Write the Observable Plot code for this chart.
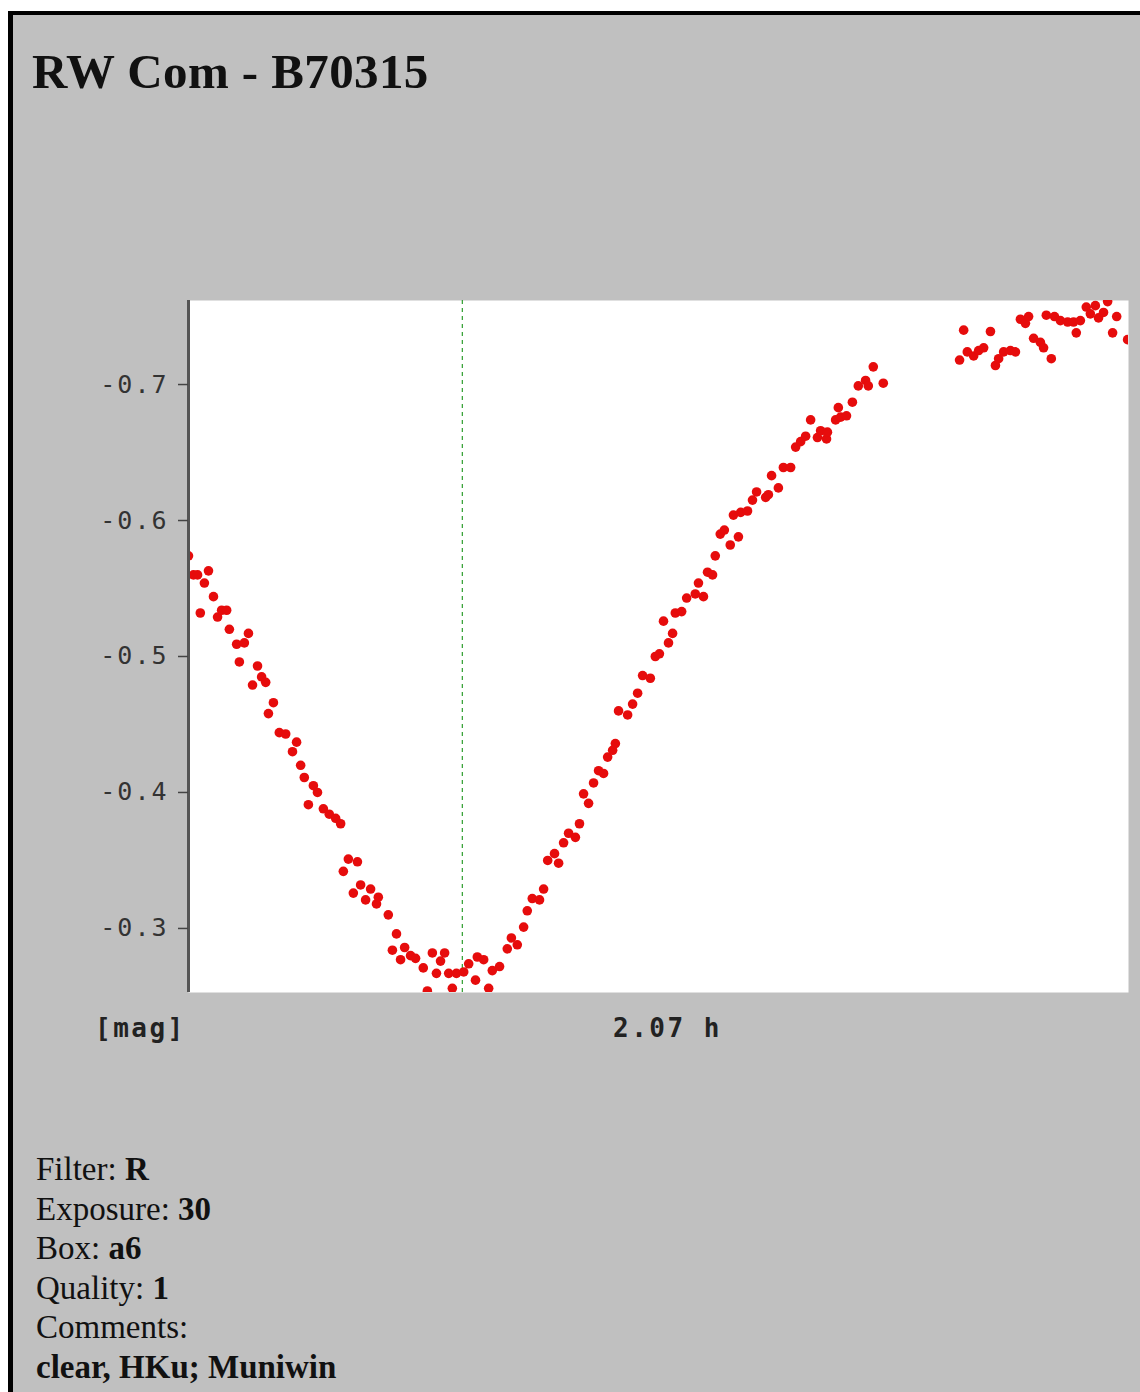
<!DOCTYPE html>
<html>
<head>
<meta charset="utf-8">
<script src="https://cdn.jsdelivr.net/npm/d3@7"></script>
<script src="https://cdn.jsdelivr.net/npm/@observablehq/plot@0.6"></script>
<style>
  html, body { margin: 0; padding: 0; background: #fff; overflow: hidden; width: 1140px; height: 1392px; }
  #frame { position: absolute; left: 8px; top: 11px; width: 1300px; height: 1500px; background: #c0c0c0;
           border-left: 5px solid #000; border-top: 4px solid #000; }
  #title { position: absolute; left: 32px; top: 47px; font-family: "Liberation Serif", "Times New Roman", serif;
           font-weight: bold; font-size: 49px; line-height: 49px; color: #111; white-space: nowrap; letter-spacing: 0.4px; }
  #chart { position: absolute; left: 0; top: 280px; }
  .axlab { position: absolute; top: 1015px; font-family: "DejaVu Sans Mono", monospace; font-size: 26px;
           line-height: 26px; letter-spacing: 2.5px; color: #222; font-weight: bold; white-space: nowrap; }
  #info { position: absolute; left: 36px; top: 1150px; font-family: "Liberation Serif", "Times New Roman", serif;
          font-size: 33px; line-height: 39.5px; color: #111; white-space: nowrap; }
</style>
</head>
<body>
<div id="frame"></div>
<div id="title">RW Com - B70315</div>
<div id="chart"></div>
<div class="axlab" id="ylab" style="left:95px">[mag]</div>
<div class="axlab" id="xlab" style="left:613px">2.07 h</div>
<div id="info">
  Filter: <b>R</b><br>
  Exposure: <b>30</b><br>
  Box: <b>a6</b><br>
  Quality: <b>1</b><br>
  Comments:<br>
  <b>clear, HKu; Muniwin</b>
</div>
<script>
// Time since start of run (hours)
const times = [
  0.000,0.011,0.020,0.035,0.044,0.055,0.026,0.064,0.073,0.084,
  0.090,0.106,0.112,0.123,0.132,0.141,0.152,0.161,0.170,0.176,
  0.187,0.200,0.214,0.229,0.238,0.247,0.255,0.264,0.275,0.284,
  0.297,0.310,0.324,0.335,
  0.341,0.352,0.372,0.363,0.379,0.390,0.401,0.414,0.418,0.440,
  0.458,0.449,0.467,0.476,0.489,0.500,0.517,0.526,0.537,0.546,
  0.555,0.564,0.573,0.581,0.590,0.606,0.617,0.632,0.636,0.650,
  0.661,0.669,0.685,0.702,0.711,0.724,0.738,0.746,0.757,0.773,
  0.782,0.791,
  0.806,0.815,0.826,0.837,0.852,0.861,0.870,0.881,0.892,0.903,0.914,0.923,0.934,0.940,
  0.947,0.967,0.978,0.989,1.000,1.017,1.028,1.037,1.046,1.057,
  1.066,1.072,1.086,1.097,1.116,1.123,1.134,1.143,1.154,1.160,
  1.171,1.180,1.193,1.200,1.211,1.216,1.231,1.242,1.251,1.271,
  1.277,1.284,1.299,1.310,1.326,1.337,1.348,1.359,
  1.370,1.385,1.392,1.405,1.407,1.425,1.431,1.436,1.449,1.462,
  1.475,1.491,1.497,1.508,1.530,
  1.698,1.707,1.715,1.729,1.740,1.751,1.766,1.777,1.784,1.795,
  1.810,1.821,1.832,1.843,1.850,1.861,1.876,1.883,1.900,1.889,
  1.907,1.920,1.936,1.949,1.955,1.964,1.977,1.986,1.997,2.004,
  2.015,2.024,2.035,2.044,2.068
];
// Differential magnitude
const mags = [
  -0.574,-0.560,-0.560,-0.554,-0.563,-0.544,-0.532,-0.529,-0.534,-0.534,
  -0.520,-0.509,-0.496,-0.510,-0.517,-0.479,-0.493,-0.485,-0.481,-0.458,
  -0.466,-0.444,-0.443,-0.430,-0.437,-0.420,-0.411,-0.391,-0.405,-0.400,
  -0.388,-0.384,-0.381,-0.377,
  -0.342,-0.351,-0.349,-0.326,-0.332,-0.321,-0.329,-0.318,-0.323,-0.310,
  -0.296,-0.284,-0.277,-0.286,-0.280,-0.278,-0.271,-0.254,-0.282,-0.267,
  -0.276,-0.282,-0.267,-0.256,-0.267,-0.268,-0.274,-0.262,-0.279,-0.277,
  -0.256,-0.269,-0.272,-0.285,-0.293,-0.288,-0.301,-0.313,-0.322,-0.321,
  -0.329,-0.350,
  -0.355,-0.348,-0.363,-0.370,-0.367,-0.377,-0.399,-0.392,-0.407,-0.416,-0.414,-0.426,-0.431,-0.436,
  -0.460,-0.457,-0.465,-0.473,-0.486,-0.484,-0.500,-0.502,-0.526,-0.510,
  -0.517,-0.532,-0.533,-0.543,-0.546,-0.554,-0.544,-0.562,-0.560,-0.574,
  -0.590,-0.593,-0.582,-0.604,-0.588,-0.606,-0.607,-0.615,-0.621,-0.617,
  -0.619,-0.633,-0.624,-0.639,-0.639,-0.654,-0.658,-0.662,
  -0.674,-0.661,-0.666,-0.660,-0.665,-0.674,-0.683,-0.676,-0.677,-0.687,
  -0.699,-0.703,-0.699,-0.713,-0.701,
  -0.718,-0.740,-0.724,-0.721,-0.725,-0.727,-0.739,-0.714,-0.719,-0.724,
  -0.725,-0.724,-0.748,-0.745,-0.750,-0.734,-0.731,-0.727,-0.719,-0.751,
  -0.750,-0.747,-0.746,-0.746,-0.738,-0.747,-0.757,-0.752,-0.758,-0.749,
  -0.753,-0.761,-0.738,-0.750,-0.733
];
const yTicks = [-0.7, -0.6, -0.5, -0.4, -0.3];
const minimumTime = [0.603];
const timeSpan = [0, 2.07];
const magSpan = [-0.7618, -0.2529];

const data = times.map((t, i) => ({t, mag: mags[i]}));

const chart = Plot.plot({
  width: 1140,
  height: 730,
  marginTop: 20,
  marginBottom: 18,
  marginLeft: 188,
  marginRight: 12,
  style: {background: "none", color: "#333", fontFamily: "DejaVu Sans Mono, monospace", fontSize: "25px", letterSpacing: "2px"},
  x: {domain: timeSpan, axis: null},
  y: {domain: magSpan, reverse: true, label: null},
  marks: [
    Plot.frame({fill: "white", stroke: "none"}),
    Plot.ruleX(minimumTime, {stroke: "#2e9e2e", strokeDasharray: "4,4", strokeWidth: 1.2}),
    Plot.dot(data, {x: "t", y: "mag", r: 4.8, fill: "#e60c0c", stroke: "none", clip: true}),
    Plot.ruleX([0], {stroke: "#555", strokeWidth: 3}),
    Plot.axisY({ticks: yTicks, tickFormat: d => d.toFixed(1), tickSize: 10, tickPadding: 10, label: null, stroke: "#444", strokeWidth: 1.5})
  ]
});
document.getElementById("chart").appendChild(chart);
</script>
</body>
</html>
